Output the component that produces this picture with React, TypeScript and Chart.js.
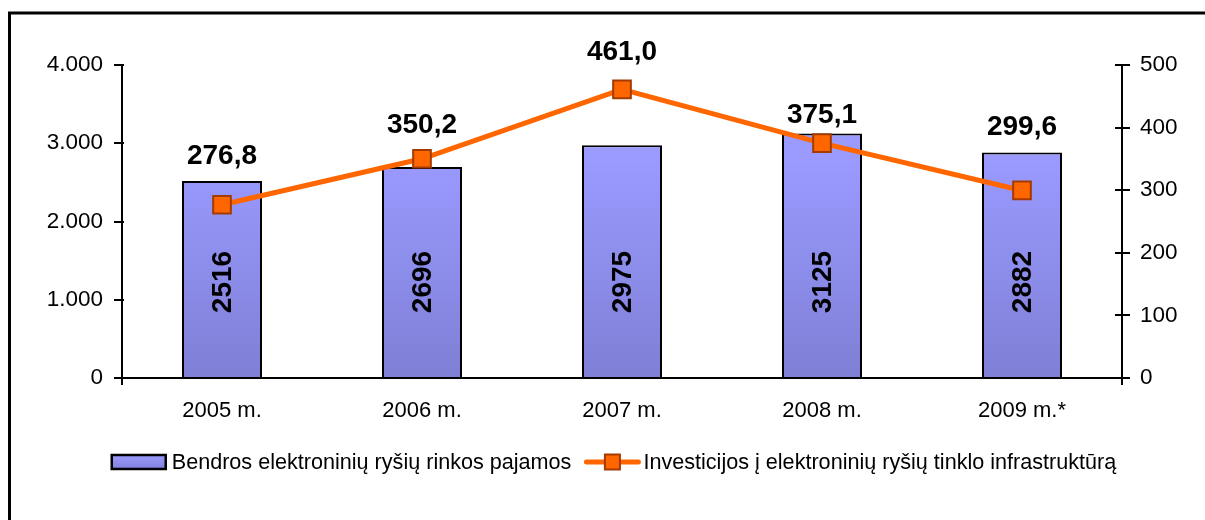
import React, { useEffect, useRef } from "react";
import { Chart, registerables } from "chart.js";

Chart.register(...registerables);

const categories = ["2005 m.", "2006 m.", "2007 m.", "2008 m.", "2009 m.*"];
const revenue = [2516, 2696, 2975, 3125, 2882];
const investment = [276.8, 350.2, 461.0, 375.1, 299.6];
const revenueName = "Bendros elektroninių ryšių rinkos pajamos";
const investmentName = "Investicijos į elektroninių ryšių tinklo infrastruktūrą";
const leftTicks = [0, 1000, 2000, 3000, 4000];
const rightTicks = [0, 100, 200, 300, 400, 500];

const FONT = "'Liberation Sans', Arial, sans-serif";
const LINE_COLOR = "#ff6600";
const MARKER_BORDER = "#a33b00";

const fmtLeft = (v: number) =>
  v === 0 ? "0" : `${Math.floor(v / 1000)}.${String(v % 1000).padStart(3, "0")}`;
const fmtInv = (v: number) => v.toFixed(1).replace(".", ",");

const lineLabelOffsets = [48, 33, 37, 28, 63];

const decorPlugin = {
  id: "decor",
  afterDraw(chart: any) {
    const ctx = chart.ctx as CanvasRenderingContext2D;
    const { chartArea } = chart;
    const yL = chart.scales.y;
    const yR = chart.scales.y1;
    ctx.save();
    // frame
    ctx.strokeStyle = "#000";
    ctx.lineWidth = 3;
    ctx.beginPath();
    ctx.moveTo(9.5, 600);
    ctx.lineTo(9.5, 13);
    ctx.lineTo(1300, 13);
    ctx.stroke();

    // axes
    ctx.lineWidth = 2;
    ctx.beginPath();
    ctx.moveTo(chartArea.left, chartArea.top);
    ctx.lineTo(chartArea.left, chartArea.bottom + 7);
    ctx.moveTo(chartArea.right, chartArea.top);
    ctx.lineTo(chartArea.right, chartArea.bottom + 7);
    ctx.moveTo(chartArea.left, chartArea.bottom);
    ctx.lineTo(chartArea.right, chartArea.bottom);
    leftTicks.forEach((t) => {
      const y = Math.round(yL.getPixelForValue(t));
      ctx.moveTo(chartArea.left - 8, y);
      ctx.lineTo(chartArea.left + 2, y);
    });
    rightTicks.forEach((t) => {
      const y = Math.round(yR.getPixelForValue(t));
      ctx.moveTo(chartArea.right - 7, y);
      ctx.lineTo(chartArea.right + 8, y);
    });
    ctx.stroke();

    // bar value labels (rotated)
    const barMeta = chart.getDatasetMeta(0);
    ctx.fillStyle = "#000";
    ctx.font = `bold 28px ${FONT}`;
    ctx.textAlign = "center";
    ctx.textBaseline = "middle";
    barMeta.data.forEach((el: any, i: number) => {
      const cy = yL.getPixelForValue(0) - 96;
      ctx.save();
      ctx.translate(el.x + 1, cy);
      ctx.rotate(-Math.PI / 2);
      ctx.fillText(String(revenue[i]), 0, 0);
      ctx.restore();
    });

    // line value labels
    const lineMeta = chart.getDatasetMeta(1);
    lineMeta.data.forEach((el: any, i: number) => {
      ctx.fillText(fmtInv(investment[i]), el.x, el.y - lineLabelOffsets[i]);
    });

    // legend
    ctx.font = `21.6px ${FONT}`;
    ctx.textBaseline = "middle";
    ctx.textAlign = "left";
    const w1 = ctx.measureText(revenueName).width;
    const w2 = ctx.measureText(investmentName).width;
    const total = 54 + 6 + w1 + 15 + 52 + 5 + w2;
    let x = 614 - total / 2;
    const ly = 462;
    const g = ctx.createLinearGradient(0, ly - 7, 0, ly + 7);
    g.addColorStop(0, "#9c9cff");
    g.addColorStop(1, "#8080dc");
    ctx.fillStyle = g;
    ctx.fillRect(x, ly - 7, 54, 14);
    ctx.lineWidth = 2.5;
    ctx.strokeStyle = "#000";
    ctx.strokeRect(x, ly - 7, 54, 14);
    x += 54 + 6;
    ctx.fillStyle = "#000";
    ctx.fillText(revenueName, x, ly + 1);
    x += w1 + 15;
    ctx.strokeStyle = LINE_COLOR;
    ctx.lineWidth = 5;
    ctx.lineCap = "round";
    ctx.beginPath();
    ctx.moveTo(x, ly);
    ctx.lineTo(x + 52, ly);
    ctx.stroke();
    ctx.fillStyle = LINE_COLOR;
    ctx.fillRect(x + 26 - 7.5, ly - 7.5, 15, 15);
    ctx.strokeStyle = MARKER_BORDER;
    ctx.lineWidth = 2;
    ctx.strokeRect(x + 26 - 7.5, ly - 7.5, 15, 15);
    x += 52 + 5;
    ctx.fillStyle = "#000";
    ctx.fillText(investmentName, x, ly + 1);
    ctx.restore();
  },
};

export default function App() {
  const ref = useRef<HTMLCanvasElement>(null);
  useEffect(() => {
    const canvas = ref.current!;
    const chart = new Chart(canvas, {
      type: "bar",
      data: {
        labels: categories,
        datasets: [
          {
            type: "bar",
            label: revenueName,
            data: revenue,
            yAxisID: "y",
            backgroundColor: (c: any) => {
              const ch = c.chart;
              const area = ch.chartArea;
              if (!area) return "#9090f0";
              const grad = ch.ctx.createLinearGradient(0, area.top, 0, area.bottom);
              grad.addColorStop(0, "#9e9eff");
              grad.addColorStop(0.3, "#9a9aff");
              grad.addColorStop(1, "#7f7fd6");
              return grad;
            },
            borderColor: "#000",
            borderWidth: 2,
            barPercentage: 0.4,
            categoryPercentage: 1,
            order: 2,
          },
          {
            type: "line",
            label: investmentName,
            data: investment,
            yAxisID: "y1",
            borderColor: LINE_COLOR,
            borderWidth: 5,
            pointStyle: "rect",
            pointRadius: 12.5,
            pointBackgroundColor: LINE_COLOR,
            pointBorderColor: MARKER_BORDER,
            pointBorderWidth: 2,
            tension: 0,
            order: 1,
          },
        ],
      } as any,
      options: {
        animation: false,
        responsive: false,
        maintainAspectRatio: false,
        layout: { padding: { top: 65, left: 0, right: 0, bottom: 0 } },
        plugins: { legend: { display: false }, tooltip: { enabled: false } },
        scales: {
          x: {
            grid: { display: false, drawTicks: false },
            border: { display: false },
            ticks: { color: "#000", font: { family: FONT, size: 22 }, padding: 20 },
            afterFit: (s: any) => {
              s.height = 142;
            },
          },
          y: {
            position: "left",
            min: 0,
            max: 4000,
            grid: { display: false, drawTicks: false },
            border: { display: false },
            afterBuildTicks: (s: any) => {
              s.ticks = leftTicks.map((v) => ({ value: v }));
            },
            ticks: {
              color: "#000",
              font: { family: FONT, size: 22.5 },
              padding: 19,
              callback: (v: any) => fmtLeft(Number(v)),
            },
            afterFit: (s: any) => {
              s.width = 122;
            },
          },
          y1: {
            position: "right",
            min: 0,
            max: 500,
            grid: { display: false, drawTicks: false },
            border: { display: false },
            afterBuildTicks: (s: any) => {
              s.ticks = rightTicks.map((v) => ({ value: v }));
            },
            ticks: {
              color: "#000",
              font: { family: FONT, size: 22.5 },
              padding: 18,
            },
            afterFit: (s: any) => {
              s.width = 83;
            },
          },
        },
      } as any,
      plugins: [decorPlugin],
    });
    return () => chart.destroy();
  }, []);
  return (
    <div style={{ position: "absolute", left: 0, top: 0, width: 1205, height: 520, background: "#fff" }}>
      <canvas ref={ref} width={1205} height={520} style={{ display: "block" }} />
    </div>
  );
}
